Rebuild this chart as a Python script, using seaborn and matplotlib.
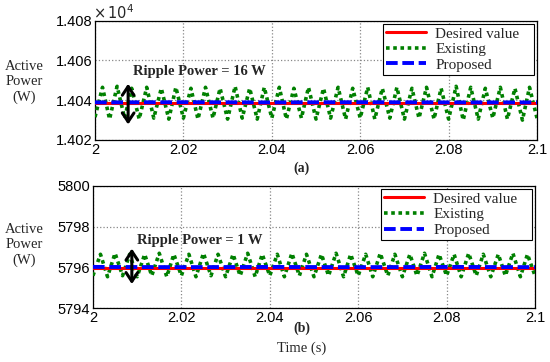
import matplotlib
matplotlib.use("Agg")
import matplotlib.pyplot as plt
import numpy as np
import pandas as pd
import seaborn as sns

# ---------------------------------------------------------------------------
# Data
# ---------------------------------------------------------------------------

# time stamps of the ripple extrema (trough / peak alternating), seconds
t_ripple = [
    2.0000, 2.0017, 2.0033, 2.0050, 2.0067, 2.0083,
    2.0100, 2.0117, 2.0133, 2.0150, 2.0167, 2.0183,
    2.0200, 2.0217, 2.0233, 2.0250, 2.0267, 2.0283,
    2.0300, 2.0317, 2.0333, 2.0350, 2.0367, 2.0383,
    2.0400, 2.0417, 2.0433, 2.0450, 2.0467, 2.0483,
    2.0500, 2.0517, 2.0533, 2.0550, 2.0567, 2.0583,
    2.0600, 2.0617, 2.0633, 2.0650, 2.0667, 2.0683,
    2.0700, 2.0717, 2.0733, 2.0750, 2.0767, 2.0783,
    2.0800, 2.0817, 2.0833, 2.0850, 2.0867, 2.0883,
    2.0900, 2.0917, 2.0933, 2.0950, 2.0967, 2.0983,
    2.1000,
]

# (a) existing method, W
p_existing_a = [
    14031.5, 14046.5, 14030.5, 14047.0, 14031.0, 14046.0,
    14030.5, 14046.5, 14031.0, 14046.0, 14030.5, 14046.5,
    14031.0, 14046.0, 14030.5, 14046.5, 14031.0, 14046.0,
    14030.5, 14047.0, 14031.0, 14046.0, 14030.5, 14046.5,
    14031.0, 14046.5, 14030.5, 14046.0, 14031.0, 14046.5,
    14030.5, 14046.0, 14031.0, 14046.5, 14030.5, 14046.0,
    14031.0, 14046.5, 14030.5, 14046.0, 14031.0, 14046.5,
    14030.5, 14046.0, 14031.0, 14046.5, 14030.5, 14046.0,
    14030.5, 14047.0, 14030.0, 14046.5, 14030.5, 14046.0,
    14031.0, 14046.5, 14030.5, 14046.0, 14030.0, 14046.5,
    14031.0,
]

# (b) existing method, W
p_existing_b = [
    5795.60, 5796.65, 5795.55, 5796.70, 5795.60, 5796.65,
    5795.55, 5796.65, 5795.60, 5796.70, 5795.55, 5796.65,
    5795.60, 5796.65, 5795.55, 5796.70, 5795.60, 5796.65,
    5795.55, 5796.65, 5795.60, 5796.70, 5795.55, 5796.65,
    5795.60, 5796.65, 5795.55, 5796.70, 5795.60, 5796.65,
    5795.55, 5796.65, 5795.60, 5796.70, 5795.55, 5796.65,
    5795.60, 5796.65, 5795.55, 5796.70, 5795.60, 5796.65,
    5795.55, 5796.65, 5795.60, 5796.70, 5795.55, 5796.65,
    5795.60, 5796.65, 5795.55, 5796.70, 5795.60, 5796.65,
    5795.55, 5796.65, 5795.60, 5796.70, 5795.55, 5796.65,
    5795.60,
]

# desired value and proposed method (nearly flat)
t_flat = [2.0, 2.02, 2.04, 2.06, 2.08, 2.1]
p_desired_a = [14038.5, 14038.5, 14038.5, 14038.5, 14038.5, 14038.5]
p_proposed_a = [14038.9, 14039.0, 14038.9, 14039.0, 14038.9, 14038.9]
p_desired_b = [5796.00, 5796.00, 5796.00, 5796.00, 5796.00, 5796.00]
p_proposed_b = [5796.03, 5796.02, 5796.03, 5796.02, 5796.03, 5796.02]

x_ticks = [2.0, 2.02, 2.04, 2.06, 2.08, 2.1]
x_tick_labels = ["2", "2.02", "2.04", "2.06", "2.08", "2.1"]
y_ticks_a = [14020, 14040, 14060, 14080]
y_tick_labels_a = ["1.402", "1.404", "1.406", "1.408"]
y_ticks_b = [5794, 5796, 5798, 5800]
y_tick_labels_b = ["5794", "5796", "5798", "5800"]

ripple_a = ("Ripple Power = 16 W", 2.0075, 14027.8, 14048.3, 14054.5)
ripple_b = ("Ripple Power = 1 W", 2.0088, 5795.19, 5796.93, 5797.33)

# ---------------------------------------------------------------------------
# Plot
# ---------------------------------------------------------------------------

sns.set_style("white")
plt.rcParams["font.family"] = ["Liberation Sans", "DejaVu Sans"]
SERIF = ["Liberation Serif", "DejaVu Serif"]

fig = plt.figure(figsize=(5.5, 3.62), dpi=100)
ax_a = fig.add_axes([0.1727, 0.6133, 0.8037, 0.3295])
ax_b = fig.add_axes([0.1690, 0.1483, 0.8037, 0.3379])


def draw_panel(ax, existing, desired, proposed, yticks, ylabels, ripple):
    df_ex = pd.DataFrame({"t": t_ripple, "p": existing})
    df_de = pd.DataFrame({"t": t_flat, "p": desired})
    df_pr = pd.DataFrame({"t": t_flat, "p": proposed})

    sns.lineplot(data=df_ex, x="t", y="p", ax=ax, color="#008000",
                 linewidth=2.6, linestyle=(0, (1, 1.0)), zorder=3)
    sns.lineplot(data=df_de, x="t", y="p", ax=ax, color="#ff0000",
                 linewidth=2.2, zorder=4)
    sns.lineplot(data=df_pr, x="t", y="p", ax=ax, color="#0000ff",
                 linewidth=2.8, linestyle=(0, (3, 1.2)), zorder=5)

    ax.set_xlim(2.0, 2.1)
    ax.set_ylim(yticks[0], yticks[-1])
    ax.set_xticks(x_ticks)
    ax.set_xticklabels(x_tick_labels)
    ax.set_yticks(yticks)
    ax.set_yticklabels(ylabels)
    ax.set_xlabel("")
    ax.set_ylabel("")
    ax.tick_params(direction="in", length=3, labelsize=10.5, pad=2,
                   colors="black")
    ax.set_axisbelow(True)
    ax.xaxis.grid(True, linestyle=":", color="#888888", linewidth=0.9)
    ax.yaxis.grid(True, linestyle=":", color="#888888", linewidth=0.9)
    for sp in ax.spines.values():
        sp.set_visible(True)
        sp.set_color("black")
        sp.set_linewidth(0.9)

    label, xa, y0, y1, ytxt = ripple
    ax.annotate("", xy=(xa, y1), xytext=(xa, y0),
                arrowprops=dict(arrowstyle="<->,head_length=0.45,head_width=0.3",
                                color="black", lw=2.2, mutation_scale=14,
                                shrinkA=0, shrinkB=0), zorder=6)
    ax.text(xa + 0.0011, ytxt, label, family=SERIF, fontweight="bold",
            fontsize=10.5, va="center", ha="left", zorder=6)

    handles = ax.get_lines()[:3]
    leg = ax.legend([handles[1], handles[0], handles[2]],
                    ["Desired value   ", "Existing", "Proposed"],
                    loc="upper right", prop={"family": SERIF, "size": 11},
                    frameon=True, fancybox=False, framealpha=1,
                    edgecolor="black", borderaxespad=0.2, borderpad=0.2,
                    labelspacing=0.12, handlelength=2.6, handletextpad=0.6)
    leg.get_frame().set_linewidth(0.8)
    leg.set_zorder(10)


draw_panel(ax_a, p_existing_a, p_desired_a, p_proposed_a,
           y_ticks_a, y_tick_labels_a, ripple_a)
draw_panel(ax_b, p_existing_b, p_desired_b, p_proposed_b,
           y_ticks_b, y_tick_labels_b, ripple_b)

# axis annotations
fig.text(93 / 550, 1 - 13 / 362, r"$\times\,10^4$", fontsize=10.5,
         ha="left", va="center")
fig.text(24 / 550, 1 - 82 / 362, "Active\nPower\n(W)", family=SERIF,
         fontsize=10.5, ha="center", va="center", linespacing=1.25)
fig.text(24 / 550, 1 - 245 / 362, "Active\nPower\n(W)", family=SERIF,
         fontsize=10.5, ha="center", va="center", linespacing=1.25)
fig.text(302 / 550, 1 - 168 / 362, "(a)", family=SERIF, fontweight="bold",
         fontsize=10, ha="center", va="center")
fig.text(302 / 550, 1 - 328 / 362, "(b)", family=SERIF, fontweight="bold",
         fontsize=10, ha="center", va="center")
fig.text(302 / 550, 1 - 348 / 362, "Time (s)", family=SERIF,
         fontsize=10.5, ha="center", va="center")

fig.savefig("out.png", dpi=100)
plt.close(fig)
